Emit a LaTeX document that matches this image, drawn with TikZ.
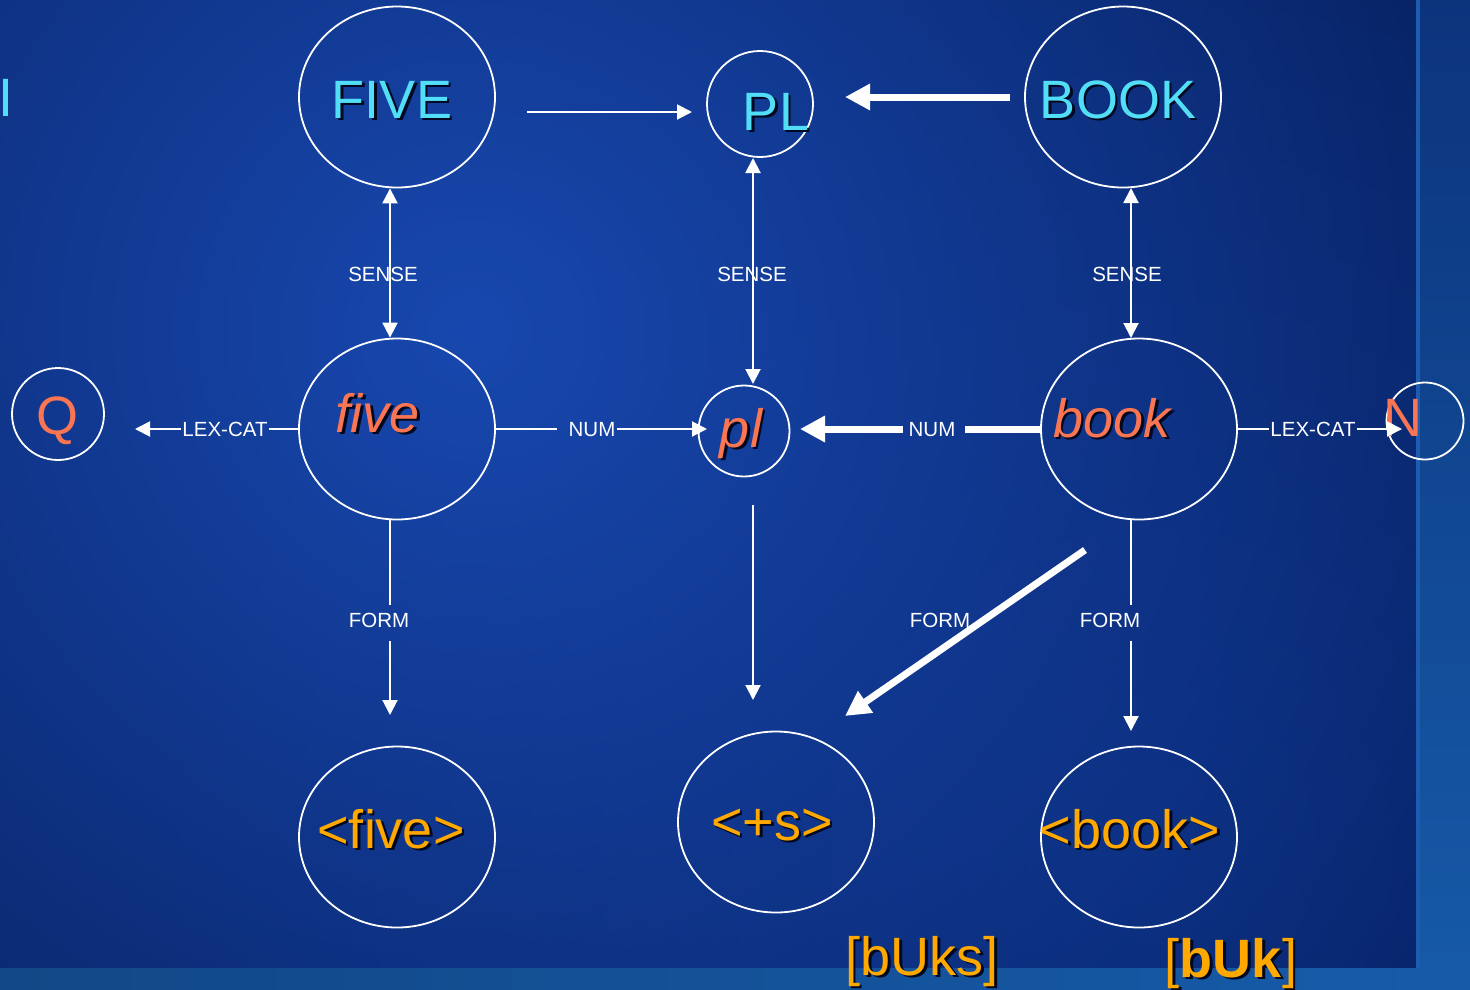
\documentclass[tikz,border=0pt]{standalone}
\usepackage{fontspec}
\setmainfont{Liberation Sans}
\usetikzlibrary{shapes.geometric,arrows.meta,fadings}

\definecolor{bgbase}{RGB}{4,26,82}
\definecolor{bgglow}{RGB}{24,72,175}
\definecolor{bgmid}{RGB}{12,50,138}
\definecolor{striptop}{RGB}{12,52,125}
\definecolor{stripbot}{RGB}{22,90,168}
\definecolor{stripedge}{RGB}{30,92,178}
\definecolor{capcyan}{RGB}{82,222,246}
\definecolor{coral}{RGB}{250,118,82}
\definecolor{amber}{RGB}{255,168,0}
\definecolor{txtshadow}{RGB}{2,8,32}

% soft round glow: opaque centre, transparent rim
\tikzfading[name=softglow, inner color=transparent!0, outer color=transparent!100]

% coloured text with a dark drop shadow
\newcommand\dropshadowed[2]{\rlap{\kern2.5pt\raisebox{-2.5pt}{\textcolor{txtshadow}{#2}}}\textcolor{#1}{#2}}

\begin{document}
\begin{tikzpicture}[x=1pt,y=-1pt,
  bubble/.style={draw=white,line width=1.8pt,ellipse,inner sep=0pt},
  word/.style={font=\fontsize{54}{60}\selectfont,inner sep=0pt,anchor=base},
  tag/.style={font=\fontsize{20.5}{24}\selectfont,text=white,inner sep=0pt,anchor=base},
  link/.style={draw=white,line width=2pt},
  linkto/.style={link,-{Triangle[length=15pt,width=15pt]}},
  linkboth/.style={link,{Triangle[length=15pt,width=15pt]}-{Triangle[length=15pt,width=15pt]}},
  heavy/.style={draw=white,line width=7pt},
  heavyto/.style={heavy,-{Triangle[length=25pt,width=25pt]}},
]
\useasboundingbox (0,0) rectangle (1470,989);

% backdrop
\fill[bgbase] (0,0) rectangle (1470,989);
\fill[bgmid, path fading=softglow, fill opacity=0.55] (1150,850) circle (1000);
\fill[bgglow, path fading=softglow] (470,330) circle (1250);
\shade[top color=striptop, bottom color=stripbot] (1416,0) rectangle (1470,989);
\shade[left color=stripbot!80!black, right color=stripbot] (0,968) rectangle (1416,989);
\fill[stripedge] (1416,0) rectangle (1420,968);

% concept nodes
\node[bubble, minimum width=196pt, minimum height=181pt] (FIVE) at (397,97) {};
\node[bubble, minimum width=106pt, minimum height=106pt] (PL) at (760,104) {};
\node[bubble, minimum width=196pt, minimum height=181pt] (BOOK) at (1123,97) {};
\node[bubble, minimum width=196pt, minimum height=181pt] (five) at (397,429) {};
\node[bubble, minimum width=91pt, minimum height=91pt] (pl) at (744,431) {};
\node[bubble, minimum width=196pt, minimum height=181pt] (book) at (1139,429) {};
\node[bubble, minimum width=92pt, minimum height=92pt] (Q) at (58,414) {};
\node[bubble, minimum width=77pt, minimum height=77pt] (N) at (1425,421) {};
\node[bubble, minimum width=196pt, minimum height=181pt] (sfive) at (397,837) {};
\node[bubble, minimum width=196pt, minimum height=181pt] (splus) at (776,822) {};
\node[bubble, minimum width=196pt, minimum height=181pt] (sbook) at (1139,837) {};

% node texts
\node[word] (tI) at (6,116) {\textcolor{capcyan}{I}};
\node[word] (tFIVE) at (392,118) {\dropshadowed{capcyan}{FIVE}};
\node[word] (tPL) at (776,130) {\dropshadowed{capcyan}{PL}};
\node[word] (tBOOK) at (1118,118) {\dropshadowed{capcyan}{BOOK}};
\node[word] (tfive) at (378,432) {\dropshadowed{coral}{\itshape five}};
\node[word] (tpl) at (741,447) {\dropshadowed{coral}{\itshape pl}};
\node[word] (tbook) at (1112,437) {\dropshadowed{coral}{\itshape book}};
\node[word] (tQ) at (58,434) {\textcolor{coral}{Q}};
\node[word] (tN) at (1403,436) {\textcolor{coral}{N}};
\node[word] (tsfive) at (391,848) {\dropshadowed{amber}{<five>}};
\node[word] (tsplus) at (772,840) {\dropshadowed{amber}{<+s>}};
\node[word] (tsbook) at (1130,848) {\dropshadowed{amber}{<book>}};
\node[word] (tbuks) at (922,975) {\dropshadowed{amber}{[bUks]}};
\node[word] (tbuk) at (1231,977) {\dropshadowed{amber}{[\textbf{bUk}]}};

% arc labels that break their lines
\node[tag] (lexL) at (225,436) {LEX-CAT};
\node[tag] (numL) at (592,436) {NUM};
\node[tag] (numR) at (932,436) {NUM};
\node[tag] (lexR) at (1313,436) {LEX-CAT};
\node[tag] (formA) at (379,627) {FORM};
\node[tag] (formB) at (940,627) {FORM};
\node[tag] (formC) at (1110,627) {FORM};

% loose ends of the arcs
\coordinate (fpA) at (527,112);
\coordinate (fpB) at (692,112);
\coordinate (bpA) at (1010,97);
\coordinate (bpB) at (845,97);
\coordinate (plTop) at (753,158);
\coordinate (plBot) at (753,384);
\coordinate (bkTop) at (1131,188);
\coordinate (bkBot) at (1131,338);
\coordinate (qEnd) at (135,429);
\coordinate (numLa) at (557,429);
\coordinate (numLb) at (707,429);
\coordinate (numRa) at (965,429);
\coordinate (numRb) at (903,429);
\coordinate (numRc) at (800,429);
\coordinate (nEnd) at (1402,429);
\coordinate (formAa) at (390,605);
\coordinate (formAb) at (390,641);
\coordinate (formAc) at (390,715);
\coordinate (plDownA) at (753,505);
\coordinate (plDownB) at (753,700);
\coordinate (diagA) at (1085,550);
\coordinate (diagB) at (845,716);
\coordinate (formCa) at (1131,605);
\coordinate (formCb) at (1131,641);
\coordinate (formCc) at (1131,731);

% arcs
\draw[linkto] (fpA) -- (fpB);
\draw[heavyto] (bpA) -- (bpB);
\draw[linkboth] ([xshift=-7pt]FIVE.south) -- ([xshift=-7pt]five.north);
\draw[linkboth] (plTop) -- (plBot);
\draw[linkboth] (bkTop) -- (bkBot);

\draw[link] (five.west) -- ([xshift=1pt]lexL.east |- five.west);
\draw[linkto] ([xshift=-1pt]lexL.west |- five.west) -- (qEnd);
\draw[link] (five.east) -- (numLa);
\draw[linkto] ([xshift=1pt]numL.east |- numLb) -- (numLb);
\draw[heavy] (book.west) -- (numRa);
\draw[heavyto] (numRb) -- (numRc);
\draw[link] (book.east) -- ([xshift=-1pt]lexR.west |- book.east);
\draw[linkto] ([xshift=1pt]lexR.east |- nEnd) -- (nEnd);

\draw[link] ([xshift=-7pt]five.south) -- (formAa);
\draw[linkto] (formAb) -- (formAc);
\draw[linkto] (plDownA) -- (plDownB);
\draw[heavyto] (diagA) -- (diagB);
\draw[link] (book.south -| formCa) -- (formCa);
\draw[linkto] (formCb) -- (formCc);

% SENSE labels sit on top of the lines they cross
\node[tag] (senseA) at (383,281) {SENSE};
\node[tag] (senseB) at (752,281) {SENSE};
\node[tag] (senseC) at (1127,281) {SENSE};
\end{tikzpicture}
\end{document}
